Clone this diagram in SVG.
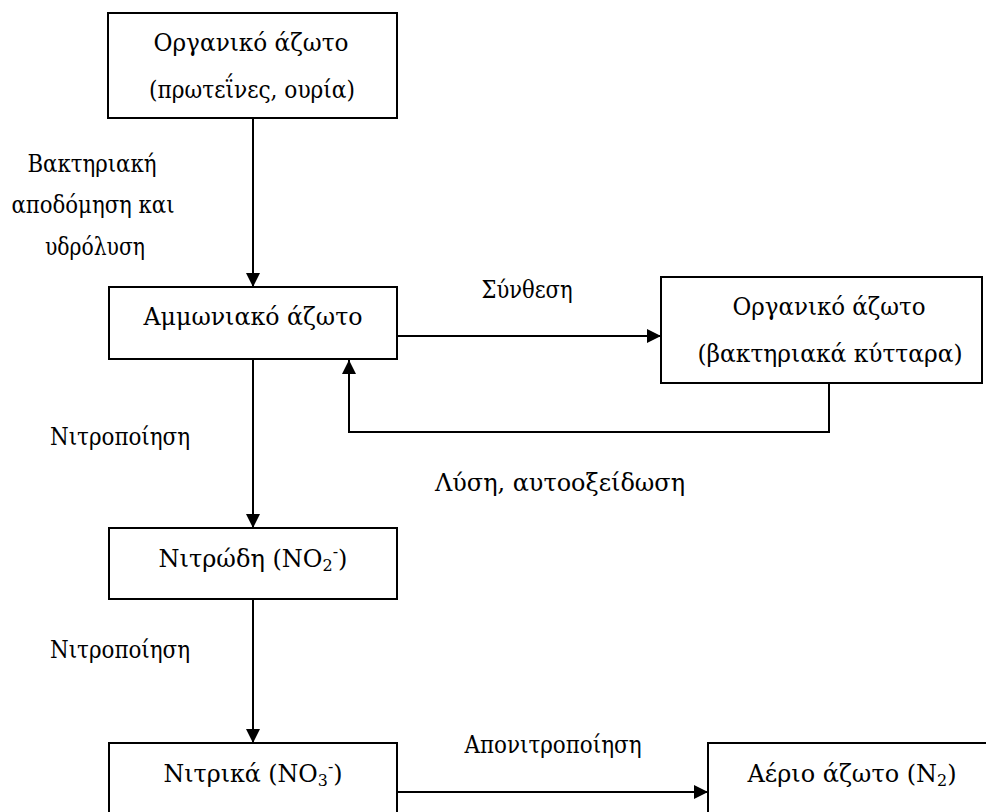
<svg xmlns="http://www.w3.org/2000/svg" width="986" height="812" viewBox="0 0 986 812">
<defs>
<style>
.box{fill:#fff;stroke:#000;stroke-width:2}
.t{font-family:"DejaVu Serif","Liberation Serif",serif;font-size:24px;fill:#000;text-anchor:middle}
.c{fill:none;stroke:#000;stroke-width:2}
.s{font-size:16px}
</style>
<marker id="ah" viewBox="0 0 14 14" markerWidth="14" markerHeight="14" refX="14" refY="7" orient="auto" markerUnits="userSpaceOnUse">
<path d="M0,0 L14,7 L0,14 z" fill="#000"/>
</marker>
<clipPath id="clipU"><rect x="0" y="230" width="250" height="30"/></clipPath>
</defs>
<rect width="986" height="812" fill="#fff"/>
<g id="connectors">
<line class="c" x1="253" y1="118" x2="253" y2="287" marker-end="url(#ah)"/>
<line class="c" x1="397" y1="336" x2="661" y2="336" marker-end="url(#ah)"/>
<polyline class="c" points="829,383 829,432 349,432 349,360" marker-end="url(#ah)"/>
<line class="c" x1="253" y1="359" x2="253" y2="528" marker-end="url(#ah)"/>
<line class="c" x1="253" y1="599" x2="253" y2="743" marker-end="url(#ah)"/>
<line class="c" x1="397" y1="792" x2="708" y2="792" marker-end="url(#ah)"/>
<text class="t" x="92" y="172" textLength="129" lengthAdjust="spacingAndGlyphs">Βακτηριακή</text>
<text class="t" x="93" y="213" textLength="163" lengthAdjust="spacingAndGlyphs">αποδόμηση και</text>
<text class="t" x="95" y="255" textLength="100" lengthAdjust="spacingAndGlyphs" clip-path="url(#clipU)">υδρόλυση</text>
<text class="t" x="527" y="298" textLength="91" lengthAdjust="spacingAndGlyphs">Σύνθεση</text>
<text class="t" x="560" y="491" textLength="250" lengthAdjust="spacingAndGlyphs">Λύση, αυτοοξείδωση</text>
<text class="t" x="120" y="445" textLength="140" lengthAdjust="spacingAndGlyphs">Νιτροποίηση</text>
<text class="t" x="120" y="658" textLength="140" lengthAdjust="spacingAndGlyphs">Νιτροποίηση</text>
<text class="t" x="553" y="753" textLength="177" lengthAdjust="spacingAndGlyphs">Απονιτροποίηση</text>
</g>
<g id="n1">
<rect class="box" x="108" y="13" width="289" height="105"/>
<text class="t" x="251" y="51" textLength="195" lengthAdjust="spacingAndGlyphs">Οργανικό άζωτο</text>
<text class="t" x="252" y="98" textLength="206" lengthAdjust="spacingAndGlyphs">(πρωτεΐνες, ουρία)</text>
</g>
<g id="n2">
<rect class="box" x="109" y="287" width="288" height="72"/>
<text class="t" x="253" y="325" textLength="219" lengthAdjust="spacingAndGlyphs">Αμμωνιακό άζωτο</text>
</g>
<g id="n3">
<rect class="box" x="661" y="277" width="321" height="106"/>
<text class="t" x="829" y="315" textLength="193" lengthAdjust="spacingAndGlyphs">Οργανικό άζωτο</text>
<text class="t" x="830" y="362" textLength="265" lengthAdjust="spacingAndGlyphs">(βακτηριακά κύτταρα)</text>
</g>
<g id="n4">
<rect class="box" x="109" y="528" width="288" height="71"/>
<text class="t" x="253" y="567" textLength="189" lengthAdjust="spacingAndGlyphs">Νιτρώδη (NO<tspan class="s" dy="4">2</tspan><tspan class="s" dy="-14">-</tspan><tspan dy="10">)</tspan></text>
</g>
<g id="n5">
<rect class="box" x="109" y="743" width="288" height="80"/>
<text class="t" x="253" y="782" textLength="179" lengthAdjust="spacingAndGlyphs">Νιτρικά (NO<tspan class="s" dy="4">3</tspan><tspan class="s" dy="-14">-</tspan><tspan dy="10">)</tspan></text>
</g>
<g id="n6">
<rect class="box" x="708" y="743" width="290" height="80"/>
<text class="t" x="852" y="782" textLength="209" lengthAdjust="spacingAndGlyphs">Αέριο άζωτο (N<tspan class="s" dy="4">2</tspan><tspan dy="-4">)</tspan></text>
</g>
</svg>
